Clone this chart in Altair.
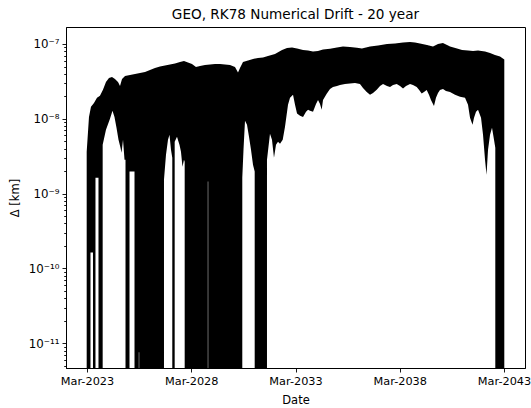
import altair as alt
import pandas as pd

# Numerical drift envelope of the RK78 propagation (km), sampled by decimal year.
# The position error oscillates quickly, so the series is drawn as its envelope:
# the running maximum and the running minimum.  A minimum of FLOOR means the
# oscillation passes through (numerically) zero drift at that time.
FLOOR = 1e-14

upper_year = [
    2023.148, 2023.186, 2023.258, 2023.354, 2023.498, 2023.642, 2023.785, 2023.929,
    2024.073, 2024.217, 2024.361, 2024.505, 2024.649, 2024.745, 2024.841, 2024.984,
    2025.224, 2025.464, 2025.704, 2025.944, 2026.183, 2026.423, 2026.663, 2026.903,
    2027.143, 2027.383, 2027.622, 2027.814, 2028.006, 2028.198, 2028.390, 2028.582,
    2028.821, 2029.061, 2029.301, 2029.541, 2029.781, 2030.020, 2030.260, 2030.404,
    2030.500, 2030.644, 2030.884, 2031.124, 2031.363, 2031.603, 2031.843, 2032.179,
    2032.515, 2032.754, 2032.994, 2033.234, 2033.522, 2033.762, 2034.001, 2034.241,
    2034.481, 2034.817, 2035.152, 2035.440, 2035.776, 2036.112, 2036.351, 2036.735,
    2037.119, 2037.550, 2037.934, 2038.318, 2038.654, 2038.893, 2039.133, 2039.469,
    2039.757, 2039.997, 2040.236, 2040.572, 2040.908, 2041.148, 2041.435, 2041.675,
    2041.915, 2042.251, 2042.491, 2042.730, 2042.970, 2043.176,
]
upper_km = [
    3.63e-9, 5.25e-9, 1.06e-8, 1.45e-8, 1.63e-8, 1.91e-8, 2.03e-8, 2.44e-8,
    3.11e-8, 3.52e-8, 3.63e-8, 3.41e-8, 3.11e-8, 2.75e-8, 3.41e-8, 3.74e-8,
    3.86e-8, 3.98e-8, 4.11e-8, 4.23e-8, 4.50e-8, 4.79e-8, 5.01e-8, 5.17e-8,
    5.33e-8, 5.50e-8, 5.75e-8, 5.93e-8, 5.67e-8, 5.41e-8, 4.94e-8, 5.09e-8,
    5.25e-8, 5.33e-8, 5.41e-8, 5.41e-8, 5.33e-8, 5.25e-8, 4.94e-8, 4.17e-8,
    4.79e-8, 5.75e-8, 6.03e-8, 6.31e-8, 6.51e-8, 6.61e-8, 6.92e-8, 7.36e-8,
    8.32e-8, 8.84e-8, 8.98e-8, 8.71e-8, 8.32e-8, 8.19e-8, 7.94e-8, 8.07e-8,
    8.45e-8, 8.66e-8, 8.98e-8, 9.26e-8, 9.12e-8, 8.93e-8, 8.71e-8, 9.26e-8,
    9.55e-8, 1.00e-7, 1.015e-7, 1.047e-7, 1.063e-7, 1.047e-7, 1.015e-7, 9.70e-8,
    9.26e-8, 1.00e-7, 1.03e-7, 9.26e-8, 8.71e-8, 8.32e-8, 8.19e-8, 8.07e-8,
    8.19e-8, 7.94e-8, 7.59e-8, 7.14e-8, 6.81e-8, 6.21e-8,
]

lower_year = [
    2023.148, 2023.330, 2023.330, 2023.450, 2023.450, 2023.570, 2023.570, 2023.714,
    2023.714, 2023.915, 2023.915, 2024.073, 2024.265, 2024.385, 2024.481, 2024.577,
    2024.673, 2024.769, 2024.817, 2024.889, 2024.961, 2025.008, 2025.008, 2025.200,
    2025.200, 2025.440, 2025.440, 2025.646, 2025.646, 2025.666, 2025.666,
    2026.855, 2026.855, 2026.951, 2027.047, 2027.119,
    2027.191, 2027.253, 2027.253, 2027.368, 2027.368, 2027.479, 2027.598, 2027.670,
    2027.742, 2027.814, 2027.848, 2027.848, 2028.955, 2028.955, 2028.975, 2028.975,
    2030.610, 2030.610, 2030.668, 2030.740,
    2030.836, 2030.932, 2031.028, 2031.124, 2031.205, 2031.205, 2031.795, 2031.795,
    2031.939, 2032.035, 2032.131, 2032.227, 2032.323, 2032.419, 2032.548, 2032.658,
    2032.802, 2032.898, 2033.042, 2033.138, 2033.234, 2033.378, 2033.522, 2033.666,
    2033.762, 2033.857, 2034.001, 2034.145, 2034.241, 2034.337, 2034.418, 2034.481,
    2034.658, 2034.817, 2034.960, 2035.152, 2035.296, 2035.536, 2035.776, 2036.016,
    2036.255, 2036.399, 2036.577, 2036.735, 2036.879, 2037.056, 2037.215, 2037.359,
    2037.550, 2037.694, 2037.838, 2038.016, 2038.174, 2038.318, 2038.462, 2038.654,
    2038.797, 2038.975, 2039.085, 2039.214, 2039.325, 2039.454, 2039.564, 2039.660,
    2039.804, 2039.900, 2039.997, 2040.092, 2040.236, 2040.380, 2040.572, 2040.811,
    2041.051, 2041.291, 2041.435, 2041.531, 2041.651, 2041.723, 2041.819, 2041.915,
    2042.059, 2042.155, 2042.251, 2042.323, 2042.395, 2042.491, 2042.586, 2042.682,
    2042.744, 2042.744, 2043.176,
]
lower_km = [
    FLOOR, FLOOR, 1.63e-10, 1.63e-10, FLOOR, FLOOR, 1.63e-9, 1.63e-9,
    FLOOR, FLOOR, 4.50e-9, 7.14e-9, 1.00e-8, 1.28e-8, 1.06e-8, 7.59e-9,
    5.25e-9, 4.11e-9, 3.52e-9, 5.25e-9, 2.84e-9, 2.84e-9, FLOOR, FLOOR,
    1.97e-9, 1.97e-9, FLOOR, FLOOR, 7.6e-12, 7.6e-12, FLOOR,
    FLOOR, 1.54e-9, 3.31e-9, 5.25e-9, 6.12e-9,
    3.86e-9, 3.02e-9, FLOOR, FLOOR, 4.94e-9, 5.75e-9, 4.50e-9, 3.63e-9,
    2.29e-9, 2.84e-9, 2.67e-9, FLOOR, FLOOR, 1.45e-9, 1.45e-9, FLOOR,
    FLOOR, 1.63e-9, 3.86e-9, 9.40e-9,
    8.32e-9, 5.75e-9, 3.86e-9, 2.44e-9, 1.97e-9, FLOOR, FLOOR, 2.84e-9,
    6.31e-9, 5.25e-9, 3.02e-9, 4.50e-9, 4.94e-9, 4.64e-9, 5.25e-9, 7.82e-9,
    1.54e-8, 1.91e-8, 2.09e-8, 1.54e-8, 1.18e-8, 1.10e-8, 1.06e-8, 1.24e-8,
    1.32e-8, 1.28e-8, 1.24e-8, 1.58e-8, 1.79e-8, 1.58e-8, 1.32e-8, 1.79e-8,
    2.16e-8, 2.51e-8, 2.67e-8, 2.75e-8, 2.84e-8, 2.93e-8, 2.96e-8, 3.02e-8,
    2.93e-8, 2.59e-8, 2.29e-8, 2.09e-8, 2.22e-8, 2.44e-8, 2.75e-8, 2.93e-8,
    2.75e-8, 2.67e-8, 2.84e-8, 2.91e-8, 2.75e-8, 2.54e-8, 2.75e-8, 2.93e-8,
    2.84e-8, 2.67e-8, 2.44e-8, 2.18e-8, 2.29e-8, 2.42e-8, 2.09e-8, 1.79e-8,
    1.48e-8, 1.91e-8, 2.22e-8, 2.42e-8, 2.51e-8, 2.36e-8, 2.29e-8, 2.09e-8,
    1.97e-8, 1.91e-8, 1.54e-8, 1.03e-8, 8.32e-9, 1.03e-8, 1.24e-8, 1.32e-8,
    1.03e-8, 6.12e-9, 2.84e-9, 1.79e-9, 3.86e-9, 6.12e-9, 7.59e-9, 5.25e-9,
    4.11e-9, FLOOR, FLOOR,
]

x_range_years = [2022.155, 2044.169]
tick_years = [2023, 2028, 2033, 2038, 2043]
y_range_km = [4.68e-12, 1.686e-7]


def year_to_date(y):
    """Decimal year -> ISO timestamp string (whole seconds)."""
    yi = int(y)
    start = pd.Timestamp(yi, 1, 1)
    end = pd.Timestamp(yi + 1, 1, 1)
    return (start + (end - start) * (y - yi)).floor("s").strftime("%Y-%m-%dT%H:%M:%S")


upper = pd.DataFrame({
    "date": [year_to_date(y) for y in upper_year],
    "km": upper_km,
    "base": FLOOR,
})
lower = pd.DataFrame({
    "date": [year_to_date(y) for y in lower_year],
    "km": lower_km,
    "base": FLOOR,
})

FONT = "DejaVu Sans"

x_scale = alt.Scale(domain=[year_to_date(y) for y in x_range_years])
x_axis = alt.Axis(
    values=[alt.DateTime(year=y, month=3, date=1) for y in tick_years],
    format="%b-%Y", labelFlush=False, labelOverlap=False,
    tickSize=4, tickWidth=0.9, tickColor="black",
    domain=True, domainColor="black", domainWidth=1,
    labelPadding=3, labelFontSize=11.3, labelColor="black", labelFont=FONT,
    titleFontSize=11.5, titleFont=FONT, titleFontWeight="normal", titleColor="black",
    titleBaseline="alphabetic", titleY=35, grid=False, zindex=1,
)

# log-axis tick positions: decades plus 2..9 minor steps inside the range
y_ticks = []
for e in range(-12, -6):
    for k in range(1, 10):
        v = k * 10.0 ** e
        if y_range_km[0] <= v <= y_range_km[1]:
            y_ticks.append(v)

is_major = "abs(log(datum.value)/LN10 - round(log(datum.value)/LN10)) < 0.001"
sup = {-7: "⁻⁷", -8: "⁻⁸", -9: "⁻⁹", -10: "⁻¹⁰", -11: "⁻¹¹"}
label_expr = "''"
for e, s in sup.items():
    label_expr = f"round(log(datum.value)/LN10) == {e} ? '10{s}' : ({label_expr})"
label_expr = f"{is_major} ? ({label_expr}) : ''"

y_scale = alt.Scale(type="log", domain=y_range_km, clamp=True, nice=False)
y_axis = alt.Axis(
    values=y_ticks, labelExpr=label_expr, labelOverlap=False, labelFlush=False,
    tickSize={"condition": {"test": is_major, "value": 4}, "value": 2.3},
    tickWidth=0.9, tickColor="black",
    domain=True, domainColor="black", domainWidth=1,
    labelPadding=3, labelFontSize=11.8, labelColor="black", labelFont=FONT,
    titleFontSize=11.5, titleFont=FONT, titleFontWeight="normal", titleColor="black",
    titleAngle=-90, titleAlign="center", titleBaseline="middle",
    titleX=-51, titleY=170.5, grid=False, zindex=1,
)

envelope_max = alt.Chart(upper).mark_area(color="black", clip=True).encode(
    x=alt.X("date:T", scale=x_scale, axis=x_axis, title="Date"),
    y=alt.Y("km:Q", scale=y_scale, axis=y_axis, title="Δ [km]", stack=None),
    y2=alt.Y2("base:Q"),
)

envelope_min = alt.Chart(lower).mark_area(color="white", clip=True).encode(
    x=alt.X("date:T"),
    y=alt.Y("km:Q", stack=None),
    y2=alt.Y2("base:Q"),
)

chart = (
    alt.layer(envelope_max, envelope_min)
    .properties(
        width=459, height=341,
        title=alt.TitleParams(
            "GEO, RK78 Numerical Drift - 20 year",
            font=FONT, fontSize=13.6, fontWeight="normal", color="black",
            anchor="middle", frame="group", baseline="alphabetic", offset=8, dy=14,
        ),
        autosize=alt.AutoSizeParams(type="none"),
        padding={"left": 66, "top": 27, "right": 6, "bottom": 40},
        background="white",
    )
    .configure_view(stroke="black", strokeWidth=1)
)

chart.save("out.html", embed_options={"renderer": "svg", "actions": False})
